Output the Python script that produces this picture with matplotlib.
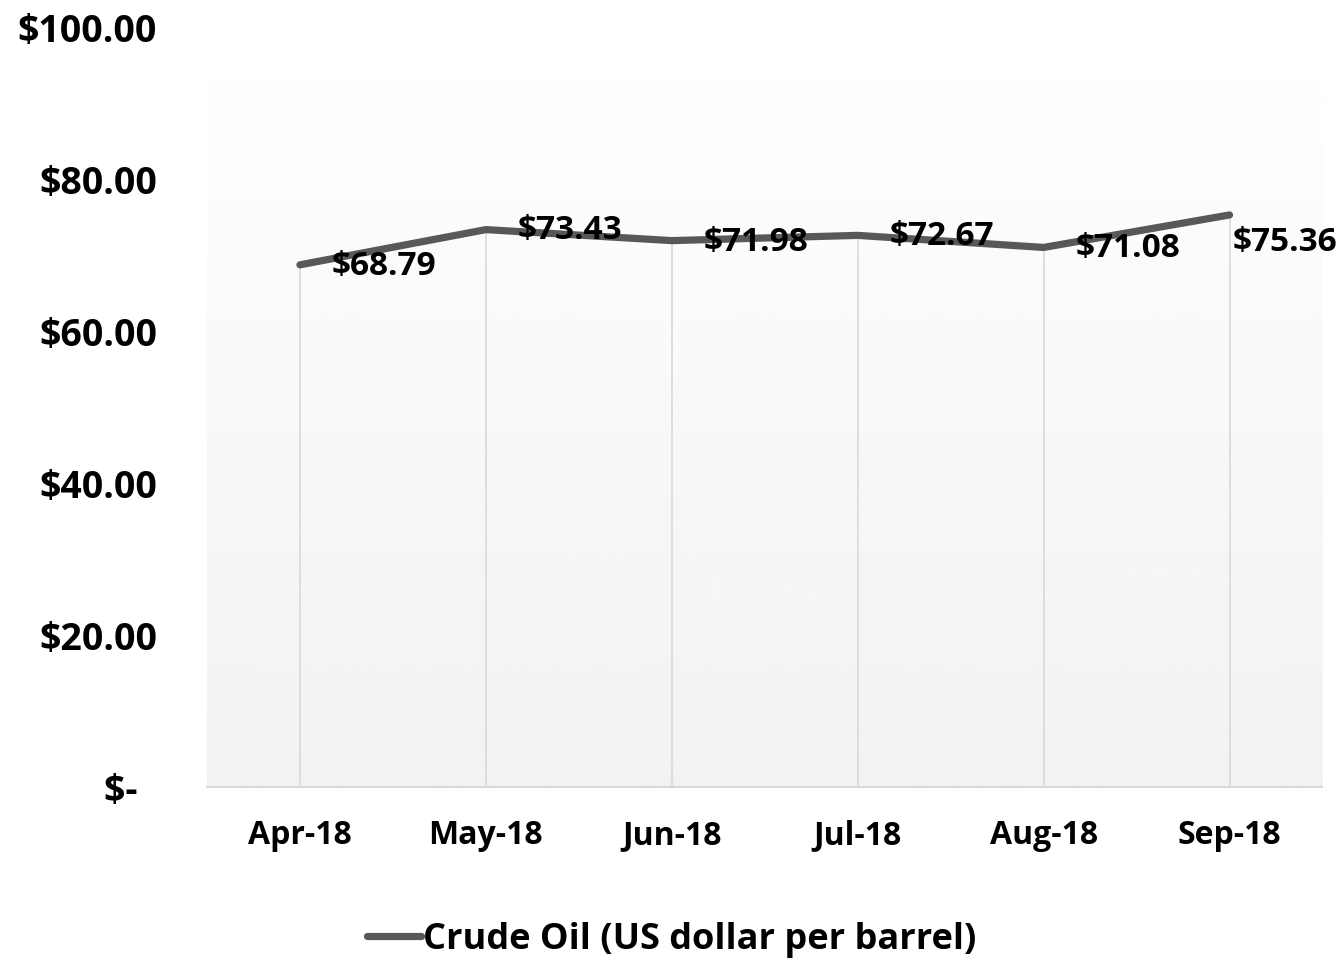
import numpy as np
import matplotlib.pyplot as plt

plt.rcParams['font.family'] = ['Open Sans', 'DejaVu Sans']
plt.rcParams['font.weight'] = 'bold'

# data
months = ['Apr-18', 'May-18', 'Jun-18', 'Jul-18', 'Aug-18', 'Sep-18']
prices = [68.79, 73.43, 71.98, 72.67, 71.08, 75.36]
y_ticks = [0, 20, 40, 60, 80, 100]
y_labels = ['$-  ', '$20.00', '$40.00', '$60.00', '$80.00', '$100.00']

LINE_COLOR = '#58585B'
GRID_COLOR = '#D9D9D9'

fig = plt.figure(figsize=(13.44, 9.6), dpi=100)
ax = fig.add_axes([0.154, 0.180, 0.830, 0.791])

x = np.arange(len(months)) + 0.5
ax.set_xlim(0, len(months))
ax.set_ylim(0, 100)

# gradient background (white top -> light grey bottom)
grad = np.linspace(1.0, 0.949, 256).reshape(-1, 1)
ax.imshow(grad, extent=[0, 1, 0, 1], transform=ax.transAxes, cmap='gray',
          vmin=0, vmax=1, aspect='auto', zorder=0, interpolation='bicubic')

# drop lines from each point to the axis
ax.vlines(x, 0, prices, color=GRID_COLOR, lw=1.2, zorder=1)

ax.plot(x, prices, color=LINE_COLOR, lw=5.2, solid_capstyle='round',
        solid_joinstyle='round', zorder=3, label='Crude Oil (US dollar per barrel)')

for i, (xi, v) in enumerate(zip(x, prices)):
    if i == len(prices) - 1:
        off = (2, -20)
    else:
        off = (23, -1)
    ax.annotate(f'${v:.2f}', (xi, v), xytext=off, textcoords='offset points',
                ha='left', va='center', fontsize=24, fontweight='bold',
                color='black', zorder=4, annotation_clip=False)

for s in ['top', 'right', 'left']:
    ax.spines[s].set_visible(False)
ax.spines['bottom'].set_color(GRID_COLOR)
ax.spines['bottom'].set_linewidth(1.5)

ax.set_xticks(x)
ax.set_xticklabels(months, fontsize=23, fontweight='bold')
ax.set_yticks(y_ticks)
ax.set_yticklabels(y_labels, fontsize=27, fontweight='bold')
ax.tick_params(axis='x', length=0, pad=23)
ax.tick_params(axis='y', length=0, pad=36)

fig.legend(loc='center', bbox_to_anchor=(0.5, 0.021), frameon=False,
           handlelength=1.5, handletextpad=0.05,
           prop={'weight': 'bold', 'size': 26})

fig.savefig('out.png', dpi=100)
